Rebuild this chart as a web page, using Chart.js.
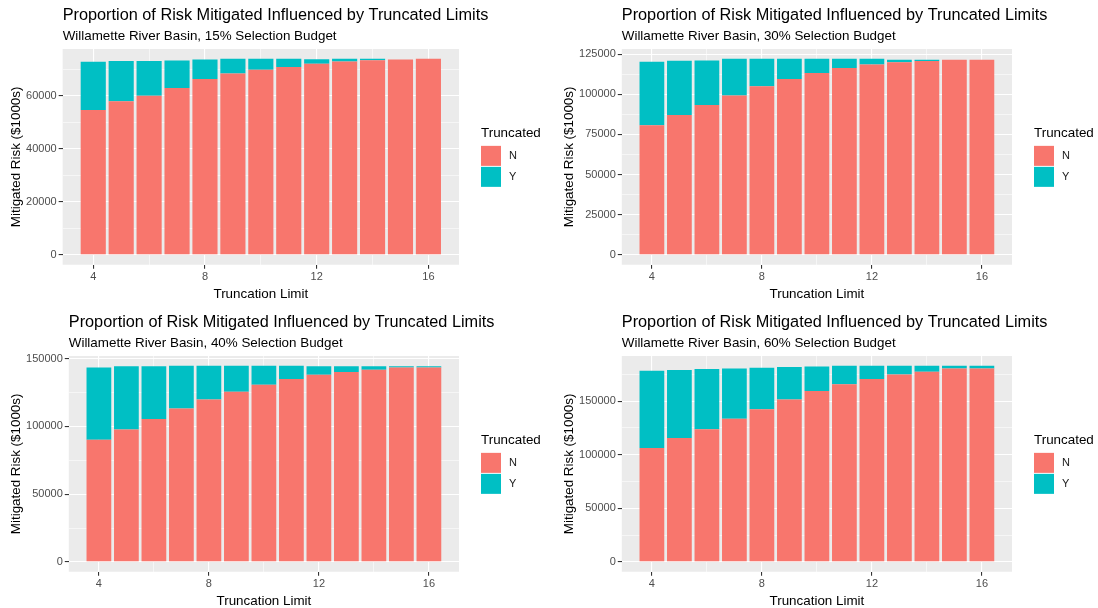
<!DOCTYPE html>
<html>
<head>
<meta charset="utf-8">
<title>Proportion of Risk Mitigated Influenced by Truncated Limits</title>
<script src="https://cdn.jsdelivr.net/npm/chart.js@4.4.1/dist/chart.umd.min.js"></script>
<style>
  html, body { margin: 0; padding: 0; background: #fff; overflow: hidden; }
  #wrap { position: relative; width: 1098px; height: 608px; overflow: hidden; }
  #wrap canvas { position: absolute; }
</style>
</head>
<body>
<div id="wrap">
  <canvas id="c15" width="545" height="302" style="left:0;top:0"></canvas>
  <canvas id="c30" width="545" height="302" style="left:553px;top:0"></canvas>
  <canvas id="c40" width="545" height="302" style="left:0;top:307px"></canvas>
  <canvas id="c60" width="545" height="302" style="left:553px;top:307px"></canvas>
</div>
<script>
const FONT = '"Liberation Sans", Arial, sans-serif';

// truncation limits on the x axis
const limits = [4, 5, 6, 7, 8, 9, 10, 11, 12, 13, 14, 15, 16];
const xTicks = [4, 8, 12, 16];

// mitigated risk ($1000s), split by whether the limit truncated the selection
const n15 = [54700, 58000, 60100, 63000, 66400, 68500, 69900, 70900, 72100, 73000, 73500, 73700, 74000];
const y15 = [18200, 15200, 13100, 10400, 7300, 5500, 4100, 3100, 1700, 1000, 500, 0, 0];
const ticks15 = [0, 20000, 40000, 60000];

const n30 = [80700, 87100, 93300, 99200, 105000, 109500, 113200, 116300, 118600, 120000, 120700, 121500, 121500];
const y30 = [39500, 33800, 27800, 22900, 17100, 12600, 8900, 5800, 3500, 1500, 800, 0, 0];
const ticks30 = [0, 25000, 50000, 75000, 100000, 125000];

const n40 = [90000, 97600, 105400, 113200, 119800, 125400, 130700, 134900, 138000, 140000, 141700, 143400, 143400];
const y40 = [53400, 46600, 38800, 31400, 24800, 19200, 13900, 9700, 6200, 4200, 2500, 800, 800];
const ticks40 = [0, 50000, 100000, 150000];

const n60 = [106400, 115600, 123700, 133600, 142500, 151500, 159600, 165700, 170700, 175000, 177500, 180600, 180600];
const y60 = [72000, 63400, 56300, 47000, 38700, 30300, 22800, 17300, 12300, 8000, 5500, 2400, 2400];
const ticks60 = [0, 50000, 100000, 150000];

Chart.defaults.font.family = FONT;
Chart.defaults.color = '#4D4D4D';

// grey panel, titles and the fill guide
const ggDecor = {
    id: 'ggDecor',
    beforeDraw(chart) {
        const a = chart.chartArea;
        const ctx = chart.ctx;
        ctx.save();
        ctx.fillStyle = '#EBEBEB';
        ctx.fillRect(a.left, a.top, a.right - a.left, a.bottom - a.top);
        ctx.restore();
    },
    afterDraw(chart, args, opts) {
        const a = chart.chartArea;
        const ctx = chart.ctx;
        ctx.save();
        ctx.fillStyle = '#000';
        ctx.textAlign = 'left';
        ctx.textBaseline = 'alphabetic';
        ctx.font = '16.3px ' + FONT;
        ctx.fillText(opts.title, a.left, 19.5);
        ctx.font = '13.4px ' + FONT;
        ctx.fillText(opts.subtitle, a.left, 39.5);

        const x = a.right + 22;
        const mid = (a.top + a.bottom) / 2;
        ctx.fillText(opts.legendTitle, x, mid - 20);
        ctx.font = '11px ' + FONT;
        ctx.textBaseline = 'middle';
        chart.data.datasets.forEach(function(ds, i) {
            const y = mid - 11 + i * 21;
            ctx.fillStyle = ds.backgroundColor;
            ctx.fillRect(x, y, 20, 20);
            ctx.fillStyle = '#1A1A1A';
            ctx.fillText(ds.label, x + 28, y + 10.5);
        });
        ctx.restore();
    }
};

// major ticks plus the minor (half-step) ones that fall inside the range
function withMinor(majors, min, max) {
    const half = (majors[1] - majors[0]) / 2;
    const out = [];
    for (let v = majors[0] - half; v <= max; v += half) {
        if (v >= min) out.push(v);
    }
    return out;
}

function gridFor(majors) {
    return {
        color: '#FFFFFF',
        lineWidth: c => (c.tick && majors.includes(c.tick.value)) ? 1.1 : 0.55,
        tickColor: c => (c.tick && majors.includes(c.tick.value)) ? '#333333' : 'rgba(0,0,0,0)',
        tickLength: 4,
        tickWidth: 1.1,
        offset: false
    };
}

function makePanel(id, budget, nVals, yVals, yTicks) {
    const totals = nVals.map((v, i) => v + yVals[i]);
    const top = Math.max.apply(null, totals);
    const span = limits[limits.length - 1] - limits[0] + 0.9;
    const xMin = limits[0] - 0.45 - 0.05 * span;
    const xMax = limits[limits.length - 1] + 0.45 + 0.05 * span;

    new Chart(document.getElementById(id), {
        type: 'bar',
        data: {
            datasets: [
                {
                    label: 'N',
                    data: limits.map((x, i) => ({x: x, y: nVals[i]})),
                    backgroundColor: '#F8766D'
                },
                {
                    label: 'Y',
                    data: limits.map((x, i) => ({x: x, y: yVals[i]})),
                    backgroundColor: '#00BFC4'
                }
            ]
        },
        options: {
            responsive: false,
            animation: false,
            events: [],
            layout: { padding: { top: 49, right: 86, bottom: 0, left: 5 } },
            datasets: { bar: { barPercentage: 0.9, categoryPercentage: 1, borderWidth: 0 } },
            scales: {
                x: {
                    type: 'linear',
                    stacked: true,
                    offset: false,
                    min: xMin,
                    max: xMax,
                    afterBuildTicks: s => { s.ticks = withMinor(xTicks, s.min, s.max).map(v => ({value: v})); },
                    ticks: {
                        autoSkip: false,
                        maxRotation: 0,
                        padding: 2,
                        font: { size: 11 },
                        callback: v => xTicks.includes(v) ? String(v) : ''
                    },
                    grid: gridFor(xTicks),
                    border: { display: false },
                    title: {
                        display: true,
                        text: 'Truncation Limit',
                        color: '#000',
                        font: { size: 13.4 },
                        padding: { top: 0, bottom: 0 }
                    }
                },
                y: {
                    type: 'linear',
                    stacked: true,
                    min: -0.05 * top,
                    max: 1.05 * top,
                    afterBuildTicks: s => { s.ticks = withMinor(yTicks, s.min, s.max).map(v => ({value: v})); },
                    ticks: {
                        autoSkip: false,
                        padding: 2,
                        font: { size: 11 },
                        callback: v => yTicks.includes(v) ? String(v) : ''
                    },
                    grid: gridFor(yTicks),
                    border: { display: false },
                    title: {
                        display: true,
                        text: 'Mitigated Risk ($1000s)',
                        color: '#000',
                        font: { size: 13.4 },
                        padding: { top: 3, bottom: 0 }
                    }
                }
            },
            plugins: {
                legend: { display: false },
                tooltip: { enabled: false },
                ggDecor: {
                    title: 'Proportion of Risk Mitigated Influenced by Truncated Limits',
                    subtitle: 'Willamette River Basin, ' + budget + '% Selection Budget',
                    legendTitle: 'Truncated'
                }
            }
        },
        plugins: [ggDecor]
    });
}

makePanel('c15', 15, n15, y15, ticks15);
makePanel('c30', 30, n30, y30, ticks30);
makePanel('c40', 40, n40, y40, ticks40);
makePanel('c60', 60, n60, y60, ticks60);
</script>
</body>
</html>
